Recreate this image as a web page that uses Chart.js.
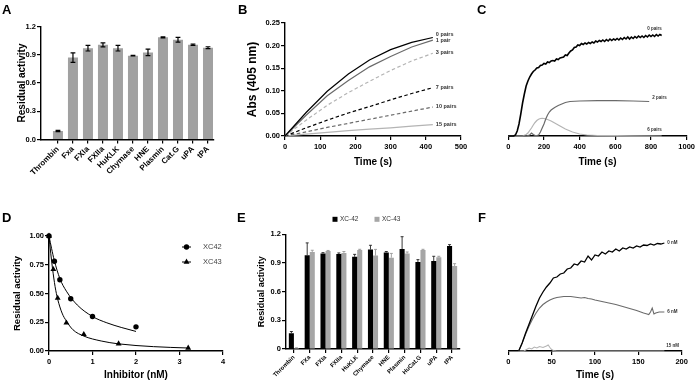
<!DOCTYPE html>
<html>
<head>
<meta charset="utf-8">
<script src="https://cdn.jsdelivr.net/npm/chart.js@4.4.1/dist/chart.umd.min.js"></script>
<style>
  body { margin: 0; background: #fff; }
  #fig { position: relative; width: 697px; height: 383px; overflow: hidden; background: #fff;
         font-family: "Liberation Sans", Arial, sans-serif; }
  #fig canvas { position: absolute; }
  .tag { position: absolute; font-weight: bold; font-size: 13px; line-height: 13px; }
</style>
</head>
<body>
<div id="fig">
  <canvas id="cA"></canvas>
  <canvas id="cB"></canvas>
  <canvas id="cC"></canvas>
  <canvas id="cD"></canvas>
  <canvas id="cE"></canvas>
  <canvas id="cF"></canvas>
  <div class="tag" style="left:2px;top:3px">A</div>
  <div class="tag" style="left:238px;top:3px">B</div>
  <div class="tag" style="left:477px;top:3px">C</div>
  <div class="tag" style="left:2px;top:211px">D</div>
  <div class="tag" style="left:237px;top:211px">E</div>
  <div class="tag" style="left:478px;top:211px">F</div>
</div>
<script>
// ---- A: residual activity per protease
const enzymesA = ['Thrombin', 'Fxa', 'FXIa', 'FXIIa', 'HuKLK', 'Chymase', 'HNE', 'Plasmin', 'Cat.G', 'uPA', 'tPA'];
const activityA = [0.09, 0.87, 0.97, 1.005, 0.97, 0.89, 0.925, 1.085, 1.06, 1.005, 0.975];
const errorA = [0.006, 0.05, 0.03, 0.022, 0.03, 0.003, 0.035, 0.006, 0.025, 0.007, 0.01];

// ---- B: absorbance vs time
const timeB = [0, 60, 120, 180, 240, 300, 360, 420];
const pairs0B = [0, 0.052, 0.099, 0.137, 0.168, 0.191, 0.207, 0.218];
const pairs1B = [0, 0.046, 0.089, 0.123, 0.153, 0.176, 0.197, 0.212];
const pairs3B = [0, 0.035, 0.068, 0.096, 0.121, 0.145, 0.166, 0.183];
const pairs7B = [0, 0.018, 0.035, 0.051, 0.065, 0.080, 0.094, 0.107];
const pairs10B = [0, 0.009, 0.019, 0.028, 0.037, 0.046, 0.055, 0.064];
const pairs15B = [0, 0.004, 0.008, 0.012, 0.015, 0.018, 0.022, 0.025];

// ---- C: clotting traces (arbitrary units)
const timeC0 = [0, 10, 20, 30, 40, 50, 60, 70, 80, 90, 100, 110, 120, 130, 140, 150, 160, 170, 180, 190,
  200, 210, 220, 230, 240, 250, 260, 270, 280, 290, 300, 310, 320, 330, 340, 350, 360, 370, 380, 390,
  400, 410, 420, 430, 440, 450, 460, 470, 480, 490, 500, 510, 520, 530, 540, 550, 560, 570, 580, 590,
  600, 610, 620, 630, 640, 650, 660, 670, 680, 690, 700, 710, 720, 730, 740, 750, 760, 770, 780, 790,
  800, 810, 820, 830, 840, 850, 860];
const pairs0C = [0, 0, 0, 0, 1, 5, 12, 22, 33, 42, 50, 55, 59, 62, 64.5, 66, 68, 68.5, 70.5, 71,
  72.5, 72, 74, 73.5, 75, 75.5, 75, 77, 76.5, 78, 78.5, 79, 81, 80.5, 83, 85, 86, 88.5, 89, 91,
  90.5, 92.5, 91.5, 93, 92, 93.5, 92.5, 94, 93, 95, 94, 95.5, 94.5, 96, 94.5, 96.5, 95, 97, 95.5, 97,
  96, 97.5, 96, 98, 96.5, 98.5, 97, 99, 97, 99, 97.5, 99.5, 98, 100, 98.5, 100, 98.5, 100.5, 99, 101,
  99.5, 101, 99.5, 101.5, 100, 101.5, 100.5];
const timeC2 = [0, 100, 120, 130, 140, 150, 160, 170, 180, 190, 200, 210, 220, 230, 240, 260, 280, 300, 320, 346, 400, 500, 600, 700, 790];
const pairs2C = [0, 0, 1, 3, 1.5, 0.5, 0.5, 1, 4, 8, 12, 17, 21, 24, 26, 28.5, 30.5, 32, 33.5, 34.5, 35, 35.3, 35.3, 35, 34.5];
const timeC6 = [0, 80, 100, 110, 120, 130, 140, 150, 160, 170, 180, 190, 200, 220, 240, 260, 280, 300, 320, 340, 360, 380, 400, 440, 500, 600, 700, 860];
const pairs6C = [0, 0, 1.5, 3, 5.5, 8, 11, 13.5, 15.5, 16.8, 17.5, 17.7, 17.5, 16.5, 15, 13, 11, 9, 7, 5.5, 4, 3, 2, 1, 0.5, 0.3, 0.2, 0];

// ---- D: dose response
const doseXC42 = [0, 0.125, 0.25, 0.5, 1, 2];
const actXC42 = [1.0, 0.78, 0.62, 0.455, 0.30, 0.21];
const doseXC43 = [0, 0.1, 0.2, 0.4, 0.8, 1.6, 3.2];
const actXC43 = [1.0, 0.71, 0.46, 0.245, 0.145, 0.063, 0.026];
const fitDoseXC42 = [0, 0.06, 0.12, 0.25, 0.4, 0.65, 1.0, 1.33, 1.66, 2.0];
const fitActXC42 = [1.0, 0.89, 0.79, 0.63, 0.52, 0.40, 0.30, 0.245, 0.205, 0.17];
const fitDoseXC43 = [0, 0.04, 0.08, 0.14, 0.2, 0.3, 0.4, 0.55, 0.8, 1.2, 1.6, 2.4, 3.2];
const fitActXC43 = [1.0, 0.85, 0.72, 0.56, 0.45, 0.33, 0.26, 0.185, 0.13, 0.087, 0.062, 0.038, 0.026];

// ---- E: two inhibitors per protease
const enzymesE = ['Thrombin', 'FXa', 'FXIa', 'FXIIa', 'HuKLK', 'Chymase', 'HNE', 'Plasmin', 'HuCat.G', 'uPA', 'tPA'];
const xc42E = [0.165, 0.98, 1.0, 0.995, 0.965, 1.04, 1.01, 1.045, 0.91, 0.92, 1.078];
const err42E = [0.018, 0.13, 0.008, 0.01, 0.025, 0.045, 0.01, 0.13, 0.025, 0.05, 0.014];
const xc43E = [0.01, 1.015, 1.025, 1.005, 1.035, 0.977, 0.955, 1.0, 1.035, 0.96, 0.868];
const err43E = [0.003, 0.018, 0.006, 0.015, 0.008, 0.065, 0.045, 0.015, 0.008, 0.01, 0.025];

// ---- F: traces at inhibitor concentrations (arbitrary units)
const timeF0 = [12, 16, 20, 24, 28, 32, 36, 40, 44, 48, 52, 56, 60, 64, 68, 72, 76, 80, 84, 88, 92, 96, 100,
  104, 108, 112, 116, 120, 124, 128, 132, 136, 140, 144, 148, 152, 156, 160, 164, 168, 172, 176, 180];
const nM0F = [0, 8, 18, 27, 36, 45, 53, 59, 64, 68, 73, 74, 77, 78, 82, 83, 87, 86, 90, 89, 95, 91, 96,
  95, 99, 97, 100, 99, 102, 100, 103, 102, 104, 103, 105, 104, 106, 105.5, 107, 106, 107.5, 107, 108];
const timeF6 = [12, 16, 20, 24, 28, 32, 36, 40, 44, 48, 52, 56, 60, 64, 68, 72, 76, 80, 84, 88, 92, 96, 100,
  108, 116, 124, 132, 140, 148, 156, 160, 162, 164, 166, 168, 170, 174, 180];
const nM6F = [0, 8, 17, 25, 32, 38, 43, 46.5, 49, 51, 52.5, 53.5, 54, 54.5, 54.5, 54.5, 54, 53.5, 53, 53.5, 52.5, 52, 51,
  49.5, 48, 46.5, 44.5, 42.5, 40.5, 38, 37, 36.5, 39, 43, 37, 38, 39, 39];
const timeF15 = [12, 18, 20, 24, 27, 30, 33, 36, 40, 44, 46, 48, 50, 52, 56, 100, 180];
const nM15F = [0, 0, 1, 3, 2, 4, 3, 4.5, 3.5, 5, 6, 3.5, 1.5, 0.5, 0, 0, 0];

const FONT = '"Liberation Sans", Arial, sans-serif';
Chart.defaults.font.family = FONT;
Chart.defaults.color = '#000';
Chart.defaults.animation = false;
Chart.defaults.plugins.legend.display = false;
Chart.defaults.plugins.tooltip.enabled = false;

const pts = (xs, ys) => xs.map((x, i) => ({ x: x, y: ys[i] }));
const plain = v => String(v);

// axis in the GraphPad look: no grid, ticks pointing out
function ax(o) {
  const a = {
    type: o.type || 'linear',
    display: o.display !== false,
    offset: !!o.offset,
    grid: { drawOnChartArea: false, color: '#000', lineWidth: 1.2, tickLength: 4, offset: false },
    border: { color: '#000', width: 1.4 },
    ticks: {
      autoSkip: false, padding: o.pad || 1,
      maxRotation: o.rot || 0, minRotation: o.rot || 0,
      font: { size: o.size || 7.5, weight: 'bold' }, color: '#000'
    },
    title: { display: false }
  };
  if (o.min !== undefined) { a.min = o.min; a.max = o.max; }
  if (o.step) a.ticks.stepSize = o.step;
  if (o.fmt) a.ticks.callback = o.fmt;
  if (o.ticksAt) a.afterBuildTicks = s => { s.ticks = o.ticksAt.map(v => ({ value: v })); };
  if (o.title) a.title = { display: true, text: o.title, color: '#000',
    font: { size: o.tsize, weight: 'bold' }, padding: { top: o.tpad || 0, bottom: o.tpad || 0 } };
  return a;
}

function place(id, box, area, yW, xH, config) {
  const cv = document.getElementById(id);
  cv.width = box.w; cv.height = box.h;
  cv.style.left = box.x + 'px'; cv.style.top = box.y + 'px';
  const o = config.options;
  o.responsive = false;
  o.layout = { padding: { left: area.l - box.x - yW, top: area.t - box.y,
    right: box.x + box.w - area.r, bottom: box.y + box.h - area.b - xH } };
  if (yW) o.scales.y.afterFit = s => { s.width = yW; };
  o.scales.x.afterFit = s => { s.height = xH; };
  return new Chart(cv, config);
}

// error bars read from the bar elements and the y scale
const errorBars = {
  id: 'errorBars',
  afterDatasetsDraw(chart, args, opts) {
    const { ctx } = chart;
    const y = chart.scales.y;
    ctx.save();
    opts.errors.forEach((errs, di) => {
      const vals = chart.data.datasets[di].data;
      chart.getDatasetMeta(di).data.forEach((bar, i) => {
        const v = typeof vals[i] === 'object' ? vals[i].y : vals[i];
        const top = y.getPixelForValue(v + errs[i]);
        const bot = opts.upOnly ? bar.y : y.getPixelForValue(v - errs[i]);
        ctx.strokeStyle = opts.colors[di];
        ctx.lineWidth = opts.width;
        ctx.beginPath();
        ctx.moveTo(bar.x, bot); ctx.lineTo(bar.x, top);
        ctx.moveTo(bar.x - opts.cap, top); ctx.lineTo(bar.x + opts.cap, top);
        if (!opts.upOnly) { ctx.moveTo(bar.x - opts.cap, bot); ctx.lineTo(bar.x + opts.cap, bot); }
        ctx.stroke();
      });
    });
    ctx.restore();
  }
};

// small text at the end of each trace
const curveLabels = {
  id: 'curveLabels',
  afterDatasetsDraw(chart, args, opts) {
    const { ctx } = chart;
    ctx.save();
    ctx.font = opts.font;
    ctx.fillStyle = opts.color;
    ctx.textBaseline = 'middle';
    opts.items.forEach(it => {
      const els = chart.getDatasetMeta(it.ds).data;
      const p = els[els.length - 1];
      ctx.textAlign = it.align || 'left';
      ctx.fillText(chart.data.datasets[it.ds].label, p.x + (it.dx || 0), p.y + (it.dy || 0));
    });
    ctx.restore();
  }
};

function marker(ctx, style, x, y, r) {
  ctx.beginPath();
  if (style === 'triangle') {
    let rad = 0;
    ctx.moveTo(x + Math.sin(rad) * r, y - Math.cos(rad) * r);
    rad += Math.PI * 2 / 3;
    ctx.lineTo(x + Math.sin(rad) * r, y - Math.cos(rad) * r);
    rad += Math.PI * 2 / 3;
    ctx.lineTo(x + Math.sin(rad) * r, y - Math.cos(rad) * r);
    ctx.closePath();
  } else {
    ctx.arc(x, y, r, 0, Math.PI * 2);
  }
  ctx.fill();
}

const keyLegend = {
  id: 'keyLegend',
  afterDraw(chart, args, opts) {
    const { ctx, chartArea: a } = chart;
    ctx.save();
    ctx.font = opts.font;
    ctx.textBaseline = 'middle';
    ctx.textAlign = 'left';
    opts.items.forEach(it => {
      const ds = chart.data.datasets[it.ds];
      const x = a.left + it.x, y = a.top + it.y;
      ctx.fillStyle = ds.backgroundColor;
      ctx.strokeStyle = ds.borderColor || ds.backgroundColor;
      if (opts.kind === 'box') {
        ctx.fillRect(x - opts.size / 2, y - opts.size / 2, opts.size, opts.size);
      } else {
        ctx.lineWidth = 1;
        ctx.beginPath(); ctx.moveTo(x - opts.line / 2, y); ctx.lineTo(x + opts.line / 2, y); ctx.stroke();
        marker(ctx, ds.pointStyle, x, y, ds.pointRadius);
      }
      ctx.fillStyle = opts.color;
      ctx.fillText(ds.label, x + opts.gap, y);
    });
    ctx.restore();
  }
};

const BLACK = '#000', DARK = '#6a6a6a', LIGHT = '#b4b4b4';

// ---------- A
place('cA', { x: 0, y: 0, w: 232, h: 190 }, { l: 41, t: 26.5, r: 214, b: 139.5 }, 41, 50.5, {
  type: 'bar',
  data: { datasets: [{
    data: activityA.map((v, i) => ({ x: i, y: v })),
    backgroundColor: '#a1a1a1', categoryPercentage: 1, barPercentage: 0.667
  }] },
  options: {
    scales: {
      x: ax({ min: -1.13, max: 10.4, ticksAt: enzymesA.map((_, i) => i), fmt: v => enzymesA[v], rot: 45, size: 8, pad: 1 }),
      y: ax({ min: 0, max: 1.2, step: 0.3, fmt: v => v.toFixed(1), title: 'Residual activity', tsize: 10, tpad: 16 })
    },
    plugins: { errorBars: { errors: [errorA], colors: [BLACK], width: 1.2, cap: 2.4, upOnly: false } }
  },
  plugins: [errorBars]
});

// ---------- B
const lineB = (label, vals, color, dash) => ({
  label: label, data: pts(timeB, vals), borderColor: color, borderWidth: 1.2,
  borderDash: dash ? [3.5, 2.5] : [], pointRadius: 0, tension: 0, clip: false
});
place('cB', { x: 232, y: 0, w: 240, h: 190 }, { l: 285, t: 23, r: 461, b: 136 }, 53, 54, {
  type: 'line',
  data: { datasets: [
    lineB('0 pairs', pairs0B, BLACK, false),
    lineB('1 pair', pairs1B, DARK, false),
    lineB('3 pairs', pairs3B, LIGHT, true),
    lineB('7 pairs', pairs7B, BLACK, true),
    lineB('10 pairs', pairs10B, DARK, true),
    lineB('15 pairs', pairs15B, LIGHT, false)
  ] },
  options: {
    scales: {
      x: ax({ min: 0, max: 500, step: 100, pad: 2, fmt: plain, title: 'Time (s)', tsize: 10, tpad: 22 }),
      y: ax({ min: 0, max: 0.25, step: 0.05, fmt: v => v.toFixed(2), title: 'Abs (405 nm)', tsize: 12, tpad: 13.8 })
    },
    plugins: { curveLabels: { font: 'bold 5.5px ' + FONT, color: '#333', items: [
      { ds: 0, dx: 3, dy: -2.5 }, { ds: 1, dx: 3, dy: 0 }, { ds: 2, dx: 3, dy: -1 },
      { ds: 3, dx: 3, dy: 0 }, { ds: 4, dx: 3, dy: -1 }, { ds: 5, dx: 3, dy: 0 }
    ] } }
  },
  plugins: [curveLabels]
});

// ---------- C
const trace = (label, xs, ys, color, w) => ({
  label: label, data: pts(xs, ys), borderColor: color, borderWidth: w, pointRadius: 0, tension: 0, clip: false
});
place('cC', { x: 464, y: 0, w: 233, h: 190 }, { l: 508.3, t: 26, r: 687, b: 136 }, 0, 54, {
  type: 'line',
  data: { datasets: [
    trace('0 pairs', timeC0, pairs0C, BLACK, 1.6),
    trace('2 pairs', timeC2, pairs2C, DARK, 1.2),
    trace('6 pairs', timeC6, pairs6C, LIGHT, 1.2)
  ] },
  options: {
    scales: {
      x: ax({ min: 0, max: 1000, step: 200, pad: 2, fmt: plain, title: 'Time (s)', tsize: 10, tpad: 22 }),
      y: ax({ min: 0, max: 110, display: false })
    },
    plugins: { curveLabels: { font: 'bold 4.5px ' + FONT, color: '#333', items: [
      { ds: 0, align: 'right', dx: 0, dy: -6.5 }, { ds: 1, dx: 3, dy: -4 }, { ds: 2, align: 'right', dx: 0, dy: -6 }
    ] } }
  },
  plugins: [curveLabels]
});

// ---------- D
place('cD', { x: 0, y: 190, w: 232, h: 193 }, { l: 49, t: 236, r: 223, b: 351 }, 49, 32, {
  type: 'line',
  data: { datasets: [
    { label: 'XC42', data: pts(doseXC42, actXC42), showLine: false, pointStyle: 'circle', pointRadius: 2.7,
      backgroundColor: BLACK, borderColor: BLACK, borderWidth: 0, clip: false },
    { label: 'XC42 fit', data: pts(fitDoseXC42, fitActXC42), borderColor: BLACK, borderWidth: 1, pointRadius: 0,
      cubicInterpolationMode: 'monotone', clip: false },
    { label: 'XC43', data: pts(doseXC43, actXC43), showLine: false, pointStyle: 'triangle', pointRadius: 3.4,
      backgroundColor: BLACK, borderColor: BLACK, borderWidth: 0, clip: false },
    { label: 'XC43 fit', data: pts(fitDoseXC43, fitActXC43), borderColor: BLACK, borderWidth: 1, pointRadius: 0,
      cubicInterpolationMode: 'monotone', clip: false }
  ] },
  options: {
    scales: {
      x: ax({ min: 0, max: 4, step: 1, pad: 2, fmt: plain, title: 'Inhibitor (nM)', tsize: 10, tpad: 1.3 }),
      y: ax({ min: 0, max: 1, step: 0.25, fmt: v => v.toFixed(2), title: 'Residual activity', tsize: 9.5, tpad: 11.3 })
    },
    plugins: { keyLegend: { kind: 'line', line: 9, gap: 16.5, font: '7.5px ' + FONT, color: '#444', items: [
      { ds: 0, x: 137.5, y: 11 }, { ds: 2, x: 137.5, y: 26 }
    ] } }
  },
  plugins: [keyLegend]
});

// ---------- E
place('cE', { x: 232, y: 190, w: 240, h: 193 }, { l: 286, t: 234.3, r: 460, b: 349 }, 54, 34, {
  type: 'bar',
  data: { labels: enzymesE, datasets: [
    { label: 'XC-42', data: xc42E, backgroundColor: BLACK, categoryPercentage: 0.64, barPercentage: 1 },
    { label: 'XC-43', data: xc43E, backgroundColor: '#a6a6a6', categoryPercentage: 0.64, barPercentage: 1 }
  ] },
  options: {
    scales: {
      x: ax({ type: 'category', offset: true, rot: 45, size: 6, pad: 1 }),
      y: ax({ min: 0, max: 1.2, step: 0.3, fmt: v => (v === 0 ? '0' : v.toFixed(1)), title: 'Residual activity', tsize: 9, tpad: 24.3 })
    },
    plugins: {
      errorBars: { errors: [err42E, err43E], colors: ['#222', '#999'], width: 0.9, cap: 1.5, upOnly: true },
      keyLegend: { kind: 'box', size: 5, gap: 5, font: '6.5px ' + FONT, color: '#333', items: [
        { ds: 0, x: 49, y: -15 }, { ds: 1, x: 91, y: -15 }
      ] }
    }
  },
  plugins: [errorBars, keyLegend]
});

// ---------- F
place('cF', { x: 464, y: 190, w: 233, h: 193 }, { l: 508.3, t: 236, r: 681.7, b: 351 }, 0, 32, {
  type: 'line',
  data: { datasets: [
    trace('0 nM', timeF0, nM0F, BLACK, 1.3),
    trace('6 nM', timeF6, nM6F, DARK, 1.1),
    trace('15 nM', timeF15, nM15F, LIGHT, 1.1)
  ] },
  options: {
    scales: {
      x: ax({ min: 0, max: 200, step: 50, pad: 2, fmt: plain, title: 'Time (s)', tsize: 10, tpad: 2 }),
      y: ax({ min: 0, max: 115, display: false })
    },
    plugins: { curveLabels: { font: 'bold 4.5px ' + FONT, color: '#333', items: [
      { ds: 0, dx: 3, dy: 0 }, { ds: 1, dx: 3, dy: 0 }, { ds: 2, dx: 2, dy: -5 }
    ] } }
  },
  plugins: [curveLabels]
});
</script>
</body>
</html>
